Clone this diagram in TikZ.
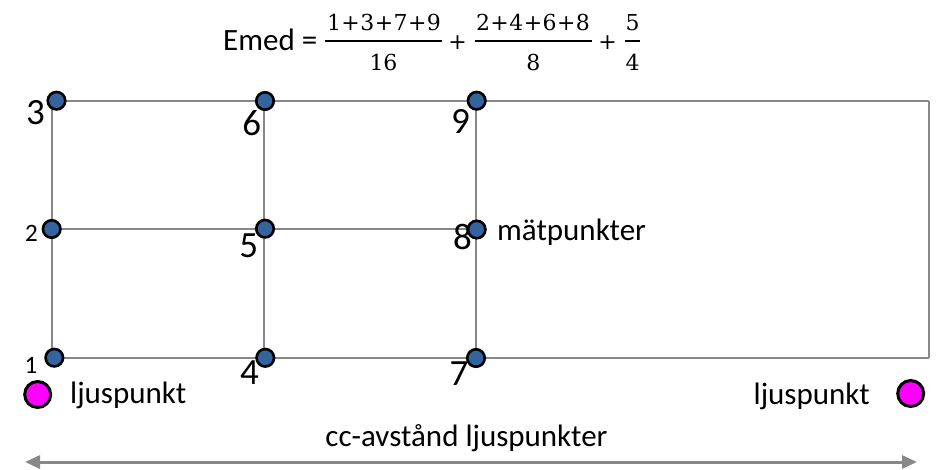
\documentclass[tikz,border=0pt]{standalone}
\usepackage{fontspec}
\setmainfont{Carlito}
\newfontfamily\fracfont{DejaVu Serif}
\newcommand\fsp{\hspace{0.02em}}
\usetikzlibrary{arrows.meta}
\definecolor{linegray}{RGB}{136,136,136}
\definecolor{dotblue}{RGB}{52,100,158}
\definecolor{lightmag}{RGB}{255,0,255}
\begin{document}
\begin{tikzpicture}[x=1pt,y=-1pt,
  gridline/.style={draw=linegray, line width=2pt},
  mdot/.style={circle, draw=black, line width=2.6pt, fill=dotblue, minimum size=17.5pt, inner sep=0pt},
  lightpt/.style={circle, draw=black, line width=3pt, fill=lightmag, minimum size=26pt, inner sep=0pt},
  biglab/.style={font=\fontsize{37}{37}\selectfont, inner sep=0pt},
  smalllab/.style={font=\fontsize{25}{25}\selectfont, inner sep=0pt},
  txt/.style={font=\fontsize{31}{31}\selectfont, inner sep=0pt},
  mathtxt/.style={font=\fracfont\fontsize{22}{22}\selectfont, inner sep=0pt},
  fracbar/.style={draw=black, line width=2.3pt},
  dimarrow/.style={draw=linegray, line width=3pt, {Triangle[length=15pt,width=13pt]}-{Triangle[length=15pt,width=13pt]}}
]
\useasboundingbox (0,0) rectangle (940,469);

% grid corners
\coordinate (c3) at (51.7,101);
\coordinate (c6) at (263.5,101);
\coordinate (c9) at (476.3,101);
\coordinate (cTR) at (928.7,101);
\coordinate (c2) at (51.7,229.3);
\coordinate (c5) at (263.5,229.3);
\coordinate (c8) at (476.3,229.3);
\coordinate (c1) at (51.7,357.6);
\coordinate (c4) at (263.5,357.6);
\coordinate (c7) at (476.3,357.6);
\coordinate (cBR) at (928.7,357.6);

% grid lines
\draw[gridline] (c3) -- (cTR);
\draw[gridline] (c2) -- (c8);
\draw[gridline] (c1) -- (cBR);
\draw[gridline] (c3) -- (c1);
\draw[gridline] (c6) -- (c4);
\draw[gridline] (c9) -- (c7);
\draw[gridline] (cTR) -- (cBR);

% measuring points
\node[mdot] (p3) at (56.5,100.7) {};
\node[mdot] (p6) at (265,101) {};
\node[mdot] (p9) at (476.7,100.7) {};
\node[mdot] (p2) at (51.7,229) {};
\node[mdot] (p5) at (265,228.7) {};
\node[mdot] (p8) at (476.7,229.5) {};
\node[mdot] (p1) at (54.3,357.7) {};
\node[mdot] (p4) at (265.3,357.8) {};
\node[mdot] (p7) at (476,358) {};

% point labels
\node[biglab] (l3) at (35.5,113) {3};
\node[biglab] (l6) at (251.7,123.5) {6};
\node[biglab] (l9) at (460.5,121) {9};
\node[smalllab] (l2) at (31.5,233) {2};
\node[biglab] (l5) at (248.7,245.5) {5};
\node[biglab] (l8) at (462.5,237) {8};
\node[smalllab] (l1) at (31,365.5) {1};
\node[biglab] (l4) at (249.5,372.5) {4};
\node[biglab] (l7) at (459,374) {7};

\node[txt, anchor=base west] (matp) at (497,240) {mätpunkter};

% light points
\node[lightpt] (lpL) at (37.7,394.5) {};
\node[lightpt] (lpR) at (910.7,393.5) {};
\node[txt, anchor=base west] (ljL) at (70,403.5) {ljuspunkt};
\node[txt, anchor=base east] (ljR) at (870,404.5) {ljuspunkt};

% distance arrow
\node[txt, anchor=base] (cc) at (466.5,446.7) {cc-avstånd ljuspunkter};
\coordinate (aL) at (25,462);
\coordinate (aR) at (917,462);
\draw[dimarrow] (aL) -- (aR);

% formula
\node[txt, anchor=base west] (emed) at (223,50.7) {Emed =};
\node[mathtxt, anchor=base] (n1) at (384,30) {1\fsp+\fsp3\fsp+\fsp7\fsp+\fsp9};
\node[mathtxt, anchor=base] (d1) at (383.5,70.7) {16};
\draw[fracbar] (325,40.7) -- (441.7,40.7);
\node[mathtxt] (plus1) at (457.5,42.7) {+};
\node[mathtxt, anchor=base] (n2) at (533,30) {2\fsp+\fsp4\fsp+\fsp6\fsp+\fsp8};
\node[mathtxt, anchor=base] (d2) at (533.3,70.7) {8};
\draw[fracbar] (475,40.7) -- (591.7,40.7);
\node[mathtxt] (plus2) at (607.5,42.7) {+};
\node[mathtxt, anchor=base] (n3) at (632.5,30) {5};
\node[mathtxt, anchor=base] (d3) at (632.5,70.7) {4};
\draw[fracbar] (625,40.7) -- (640,40.7);
\end{tikzpicture}
\end{document}
